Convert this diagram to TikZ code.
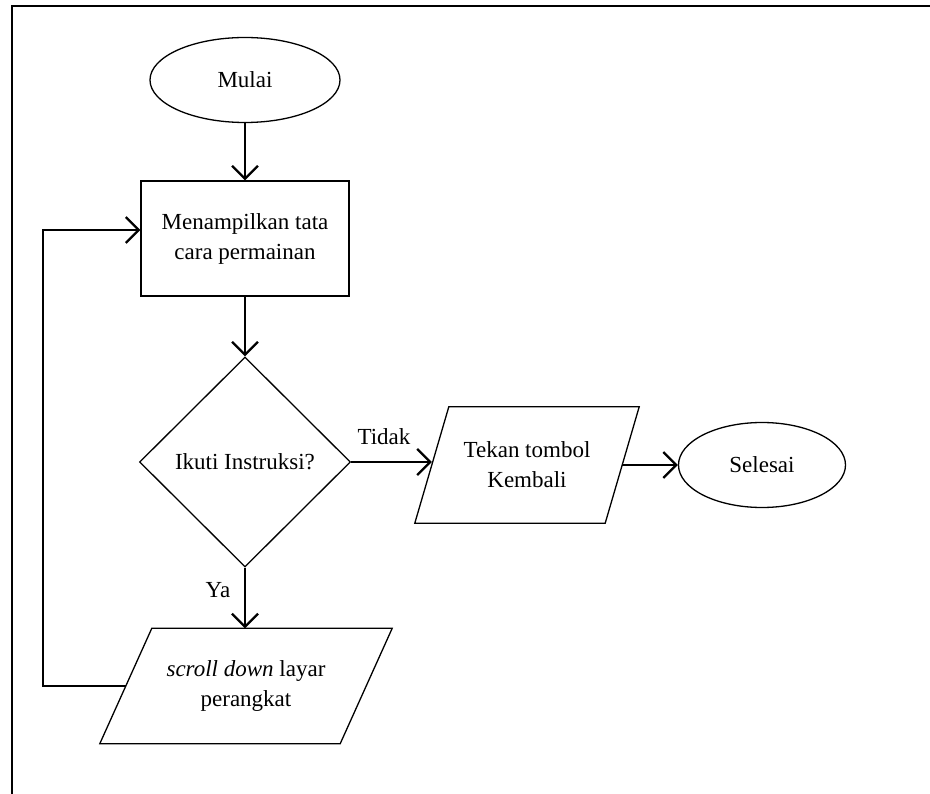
\documentclass[tikz,border=0pt]{standalone}
\usepackage{fontspec}
\setmainfont{Liberation Serif}
\usetikzlibrary{shapes.geometric,arrows.meta}
\begin{document}
\begin{tikzpicture}[x=1pt,y=-1pt,
  every node/.style={font=\fontsize{23}{30}\selectfont, align=center},
  shapeline/.style={draw, line width=1.3pt},
  terminal/.style={shapeline, ellipse, inner sep=0pt},
  process/.style={shapeline, rectangle, inner sep=0pt, minimum width=208pt, minimum height=115pt},
  decision/.style={shapeline, diamond, inner sep=0pt, minimum width=211pt, minimum height=210pt},
  iobody/.style={rectangle, inner sep=0pt},
  arr/.style={line width=2.2pt, -{Straight Barb[length=13pt,width=26pt]}},
  lbl/.style={inner sep=0pt}
]
\useasboundingbox (0,0) rectangle (930,794);
% outer frame
\draw[line width=2.5pt] (12,794) -- (12,6) -- (930,6);

\node[terminal, minimum width=190pt, minimum height=85pt] (mulai) at (245,80) {Mulai};
\node[process] (tampil) at (245,238.5) {Menampilkan tata\\cara permainan};
\node[decision] (ikuti) at (245,462) {Ikuti Instruksi?};
\node[iobody, minimum width=190pt, minimum height=116pt] (tekan) at (527,465) {Tekan tombol\\Kembali};
\node[terminal, minimum width=167pt, minimum height=85pt] (selesai) at (762,465) {Selesai};
\node[iobody, minimum width=240pt, minimum height=115pt] (scroll) at (246,686) {\textit{scroll down} layar\\perangkat};

% input/output parallelograms around their text bodies
\draw[shapeline] ([xshift=17pt]tekan.north west) -- ([xshift=17pt]tekan.north east)
  -- ([xshift=-17pt]tekan.south east) -- ([xshift=-17pt]tekan.south west) -- cycle;
\draw[shapeline] ([xshift=26pt]scroll.north west) -- ([xshift=26pt]scroll.north east)
  -- ([xshift=-26pt]scroll.south east) -- ([xshift=-26pt]scroll.south west) -- cycle;

\draw[arr] (mulai) -- (tampil);
\draw[arr] (tampil) -- (ikuti);
\draw[arr] (ikuti.east) -- (ikuti.east -| tekan.west);
\node[lbl] (tidak) at (384,437) {Tidak};
\draw[arr] (tekan.east) -- (selesai.west);
\draw[arr] (ikuti.south) -- (ikuti.south |- scroll.north);
\node[lbl] (ya) at (218,590) {Ya};
\coordinate (loop) at (43,230);
\draw[arr] (scroll.west) -| (loop) -- (loop -| tampil.west);
\end{tikzpicture}
\end{document}
